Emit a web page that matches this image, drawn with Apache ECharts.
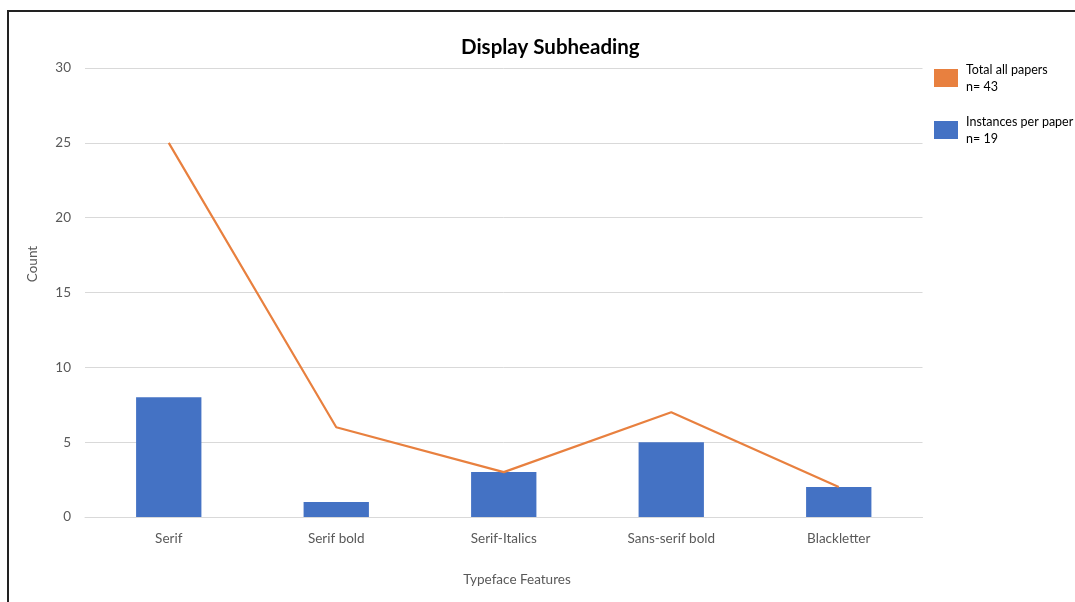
<!DOCTYPE html>
<html>
<head>
<meta charset="utf-8">
<script src="https://cdn.jsdelivr.net/npm/echarts@6/dist/echarts.min.js"></script>
<style>
	html, body { margin: 0; padding: 0; background: #fff; }
	#frame { position: absolute; left: 7px; top: 10px; width: 1068px; height: 592px;
		border-top: 2px solid #222; border-left: 2px solid #222; box-sizing: border-box; }
	#chart { position: absolute; left: 0; top: 0; width: 1075px; height: 602px; }
</style>
</head>
<body>
<div id="frame"></div>
<div id="chart"></div>
<script>
	//data
	const categories = ['Serif', 'Serif bold', 'Serif-Italics', 'Sans-serif bold', 'Blackletter'];
	const instancesPerPaper = [8, 1, 3, 5, 2];
	const totalAllPapers = [25, 6, 3, 7, 2];
	const TOTAL_NAME = 'Total all papers\nn= 43';
	const INSTANCES_NAME = 'Instances per paper\nn= 19';

	const
		FONT = 'Lato, "Open Sans", sans-serif',
		BLUE = '#4472c4',
		ORANGE = '#e8803f',
		GRID_LINE = '#d9d9d9',
		LABEL = '#595959';

	var chart = echarts.init(document.getElementById('chart'));
	chart.setOption({
		animation: false,
		textStyle: { fontFamily: FONT },
		title: {
			text: 'Display Subheading', left: 456, top: 32,
			textStyle: { fontSize: 20.5, fontWeight: 'bold', color: '#000', fontFamily: FONT }
		},
		legend: {
			orient: 'vertical', left: 929, top: 56, icon: 'rect',
			itemWidth: 24, itemHeight: 18, itemGap: 18,
			data: [TOTAL_NAME, INSTANCES_NAME],
			textStyle: { fontSize: 12.5, color: '#000', lineHeight: 17, padding: [0, 0, 0, 3] }
		},
		grid: { left: 85, right: 152.5, top: 68, bottom: 85 },
		xAxis: {
			type: 'category', data: categories,
			axisLine: { lineStyle: { color: GRID_LINE } },
			axisTick: { show: false },
			axisLabel: { color: LABEL, fontSize: 13.5, margin: 15 }
		},
		yAxis: {
			type: 'value', min: 0, max: 30, interval: 5,
			splitLine: { lineStyle: { color: GRID_LINE } },
			axisLabel: { color: LABEL, fontSize: 13.5, margin: 14 }
		},
		graphic: [
			{ type: 'text', x: 517, y: 580, style: { text: 'Typeface Features', fill: LABEL,
				font: '13.5px ' + FONT, align: 'center', verticalAlign: 'middle' } },
			{ type: 'text', x: 33, y: 264, rotation: Math.PI / 2, style: { text: 'Count', fill: LABEL,
				font: '13.5px ' + FONT, align: 'center', verticalAlign: 'middle' } }
		],
		series: [
			{
				name: INSTANCES_NAME, type: 'bar', data: instancesPerPaper,
				barWidth: '39%', itemStyle: { color: BLUE }
			},
			{
				name: TOTAL_NAME, type: 'line', data: totalAllPapers,
				symbol: 'none', lineStyle: { color: ORANGE, width: 2.2 }, itemStyle: { color: ORANGE }
			}
		]
	});
</script>
</body>
</html>
